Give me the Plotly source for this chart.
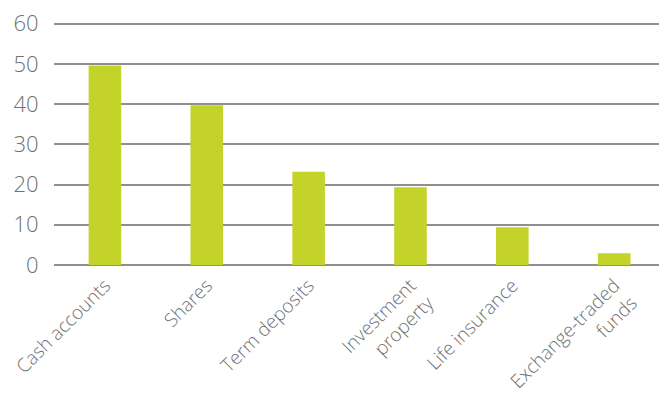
import plotly.graph_objects as go

categories = [
    "Cash accounts",
    "Shares",
    "Term deposits",
    "Investment<br>property",
    "Life insurance",
    "Exchange-traded<br>funds",
]
values = [49.6, 39.7, 23.2, 19.3, 9.4, 2.9]
y_ticks = [0, 10, 20, 30, 40, 50, 60]

bar_color = "#C3D32A"
grid_color = "#8F8F8F"
text_color = "#707070"
font_family = "Open Sans"

W, H = 659, 397
left, right, bottom = 53.5, 0, 132
y_max = 60.4
px_per_unit = (397 - 132 - 24) / 60.0
top = 24 - (y_max - 60) * px_per_unit

fig = go.Figure(
    go.Bar(
        x=list(range(len(categories))),
        y=values,
        width=0.32,
        marker=dict(color=bar_color, line=dict(width=0)),
        hoverinfo="skip",
    )
)

fig.update_layout(
    width=W,
    height=H,
    margin=dict(l=left, r=right, t=top, b=bottom, pad=0, autoexpand=False),
    paper_bgcolor="white",
    plot_bgcolor="white",
    showlegend=False,
    font=dict(family=font_family, color=text_color),
)

fig.update_xaxes(
    range=[-0.5, 5.44],
    tickmode="array",
    tickvals=list(range(len(categories))),
    ticktext=categories,
    tickangle=-45,
    tickfont=dict(size=19, color=text_color, family=font_family, weight=300),
    showgrid=False,
    zeroline=False,
    showline=False,
    ticks="outside",
    ticklen=1,
    tickcolor="rgba(0,0,0,0)",
    automargin=False,
    fixedrange=True,
)

fig.update_yaxes(
    range=[0, y_max],
    tickmode="array",
    tickvals=y_ticks,
    ticktext=[str(v) for v in y_ticks],
    tickfont=dict(size=22, color=text_color, family=font_family, weight=300),
    showgrid=True,
    gridcolor=grid_color,
    gridwidth=1.5,
    zeroline=True,
    zerolinecolor=grid_color,
    zerolinewidth=2,
    showline=False,
    ticks="outside",
    ticklen=10,
    tickcolor="rgba(0,0,0,0)",
    automargin=False,
    fixedrange=True,
)

fig.write_html("out.html", config={"displayModeBar": False})
